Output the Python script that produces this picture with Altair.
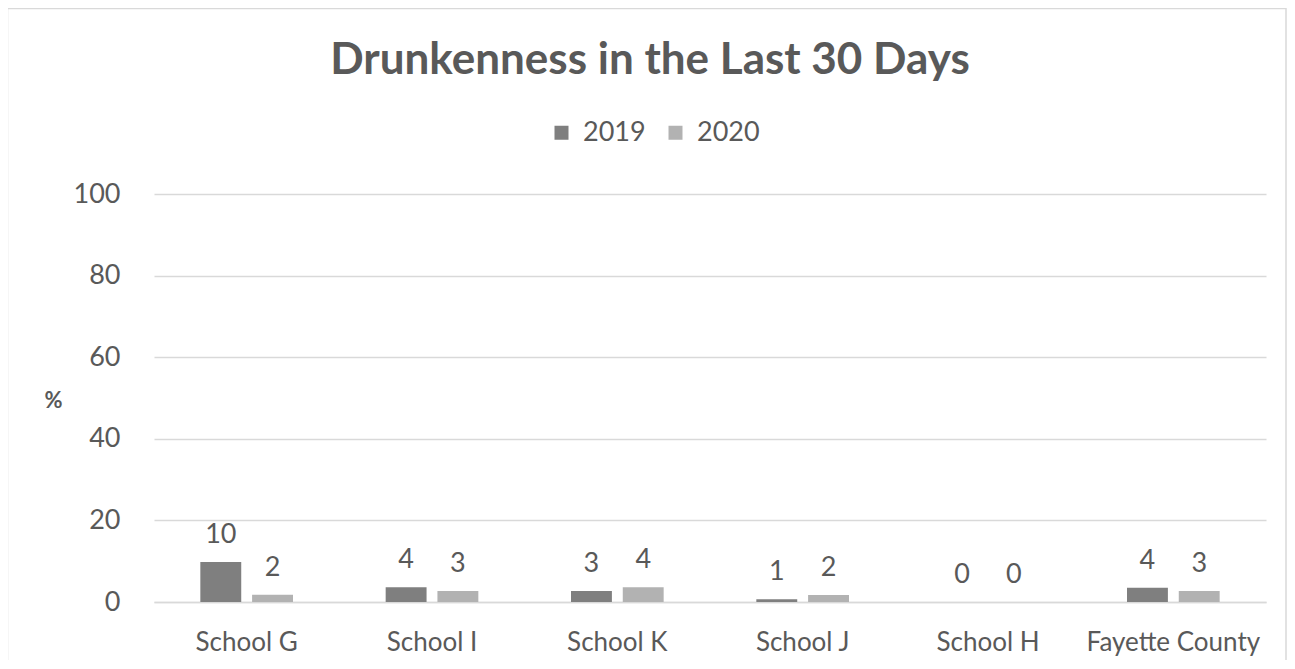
import altair as alt
import pandas as pd

categories = ["School G", "School I", "School K", "School J", "School H", "Fayette County"]
years = ["2019", "2020"]
values_2019 = [9.8, 3.6, 2.7, 0.7, 0.0, 3.5]
values_2020 = [1.8, 2.7, 3.6, 1.7, 0.0, 2.7]
y_ticks = [0, 20, 40, 60, 80, 100]
colors = ["#7f7f7f", "#b2b2b2"]

rows = []
for c, a, b in zip(categories, values_2019, values_2020):
    rows.append({"school": c, "year": years[0], "pct": a})
    rows.append({"school": c, "year": years[1], "pct": b})
df = pd.DataFrame(rows)

FONT = "Lato"
TEXT = "#595959"
GRID = "#d9d9d9"

x_enc = alt.X(
    "school:N", sort=categories, title=None,
    scale=alt.Scale(paddingInner=0.5, paddingOuter=0.25),
    axis=alt.Axis(labelAngle=0, labelFontSize=26, labelColor=TEXT, labelFont=FONT,
                  labelLimit=400, ticks=False, domainColor=GRID, domainWidth=1.3,
                  labelPadding=27),
)
xoff = alt.XOffset("year:N", sort=years, scale=alt.Scale(paddingInner=0.21))
y_enc = alt.Y(
    "pct:Q", scale=alt.Scale(domain=[0, 100], nice=False),
    axis=alt.Axis(values=y_ticks, title="%", titleAngle=0, titleFont=FONT,
                  titleFontWeight="bold", titleFontSize=22, titleColor=TEXT,
                  titleX=-101, titleY=206, titleAlign="center", titleBaseline="middle",
                  labelFontSize=27, labelColor=TEXT, labelFont=FONT, labelPadding=34,
                  ticks=False, domain=False, gridColor=GRID, gridWidth=1.3),
)

base = alt.Chart(df)
bars = base.mark_bar().encode(
    x=x_enc, xOffset=xoff, y=y_enc,
    color=alt.Color(
        "year:N", sort=years, scale=alt.Scale(domain=years, range=colors),
        legend=alt.Legend(title=None, orient="none", legendX=394, legendY=-75,
                          direction="horizontal", symbolType="square", symbolSize=196,
                          symbolStrokeWidth=0, labelFontSize=27, labelColor=TEXT,
                          labelFont=FONT, columnPadding=16, labelOffset=8),
    ),
)
labels = base.mark_text(baseline="alphabetic", dy=-19, fontSize=27, color=TEXT, font=FONT).encode(
    x=x_enc, xOffset=xoff, y=y_enc, text=alt.Text("pct:Q", format=".0f"),
)
frame = alt.Chart(pd.DataFrame({"k": [0]})).mark_rect(
    fillOpacity=0, stroke=GRID, strokeWidth=1.5
).encode(
    x=alt.value(-146.5), x2=alt.value(1132), y=alt.value(-185.5), y2=alt.value(520)
)

chart = alt.layer(frame, bars, labels).properties(
    width=1112, height=408,
    title=alt.TitleParams("Drunkenness in the Last 30 Days", font=FONT, fontSize=44,
                          fontWeight="bold", color=TEXT, anchor="middle", dx=-60,
                          baseline="alphabetic", offset=-110),
    autosize=alt.AutoSizeParams(type="none"),
    padding={"left": 146, "top": 186, "right": 21, "bottom": 58},
).configure_view(stroke=None)

chart.save("out.html", embed_options={"renderer": "svg", "actions": False})
